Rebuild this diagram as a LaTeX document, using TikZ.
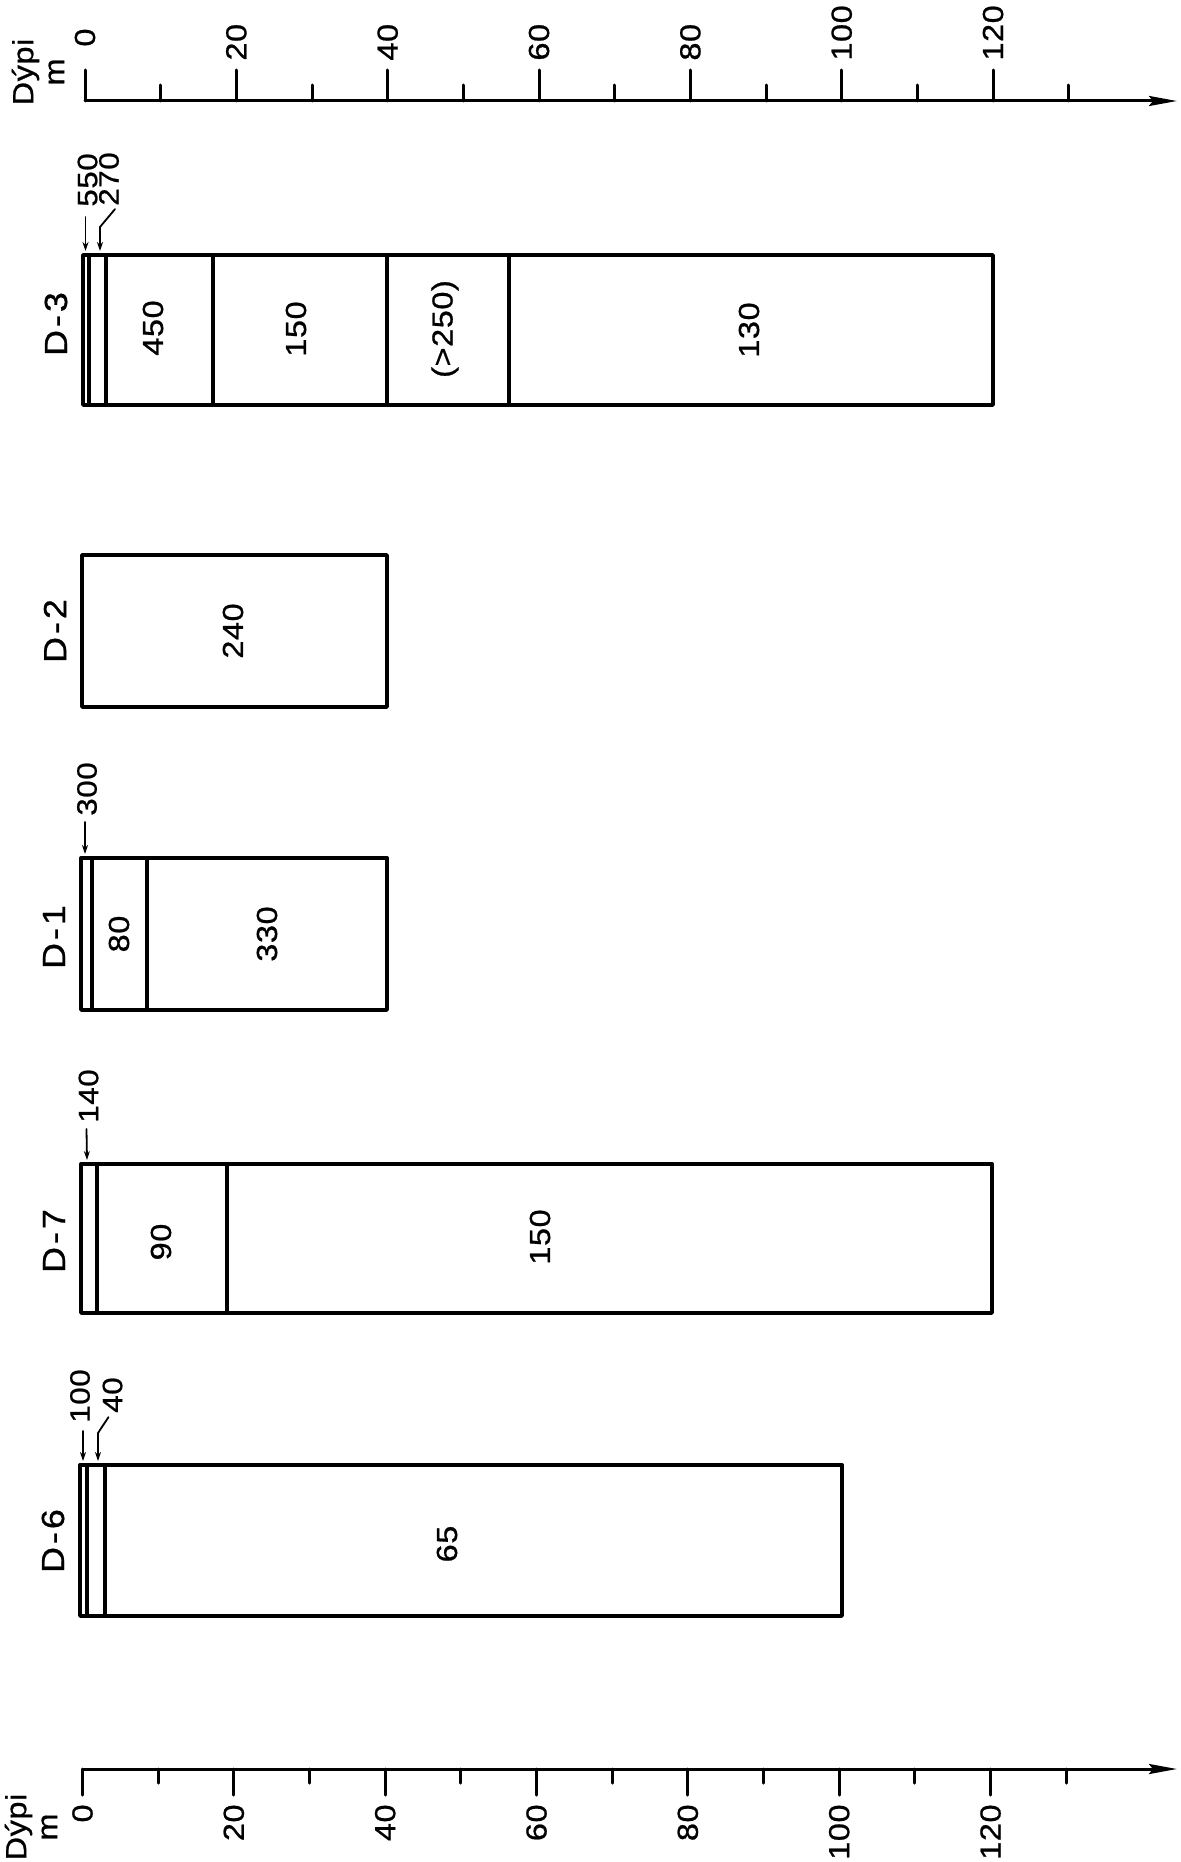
\documentclass[tikz,border=0pt]{standalone}
\usepackage{fontspec}
\setmainfont{Liberation Sans}[FakeStretch=1.12,LetterSpace=2,FakeBold=0.8]
\usetikzlibrary{arrows.meta}
\begin{document}
\begin{tikzpicture}[x=0.5pt,y=-0.5pt,
  line cap=round, line join=round,
  boxline/.style={line width=1.7pt},
  axisline/.style={line width=1.5pt},
  tickline/.style={line width=1.5pt},
  ptr/.style={line width=0.9pt,-{Stealth[length=4.5pt,width=3pt]}},
  axarrow/.style={-{Stealth[length=14pt,width=5pt,inset=2pt]}},
  numlbl/.style={rotate=90,inner sep=0pt,font=\fontsize{14.5}{16}\selectfont},
  smallnum/.style={rotate=90,inner sep=0pt,font=\fontsize{14}{15}\selectfont},
  welllbl/.style={rotate=90,inner sep=0pt,font=\fontsize{16}{18}\selectfont},
  unitlbl/.style={rotate=90,inner sep=0pt,align=center,font=\fontsize{14.5}{15.5}\selectfont},
]
\path[use as bounding box] (0,0) rectangle (1180,1862);

% ---------- top axis ----------
\draw[axisline,axarrow] (85,101) -- (1177,101);
\foreach \d in {0,20,...,120}
  \draw[tickline] ({85+7.567*\d},101) -- ({85+7.567*\d},70);
\foreach \d in {10,30,...,130}
  \draw[tickline] ({85+7.567*\d},101) -- ({85+7.567*\d},85);
\node[numlbl,anchor=west] (t0) at (85,47) {0};
\foreach \d in {20,40,...,120}
  \node[numlbl,anchor=west] (t\d) at ({85+7.567*\d},61) {\d};
\node[unitlbl] (tunit) at (38,72) {Dýpi\\m};

% ---------- bottom axis ----------
\draw[axisline,axarrow] (82.5,1769) -- (1177,1769);
\foreach \d in {0,20,...,120}
  \draw[tickline] ({82.5+7.567*\d},1769) -- ({82.5+7.567*\d},1795);
\foreach \d in {10,30,...,130}
  \draw[tickline] ({82.5+7.567*\d},1769) -- ({82.5+7.567*\d},1783);
\foreach \d in {0,20,...,120}
  \node[numlbl,anchor=east] (b\d) at ({82.5+7.567*\d},1804) {\d};
\node[unitlbl] (bunit) at (31,1827) {Dýpi\\m};

% ---------- D-3 ----------
\draw[boxline] (83,255) rectangle (993,405);
\foreach \x in {89,106,213,387,509} \draw[boxline] (\x,255) -- (\x,405);
\node[welllbl] (d3) at (56,324) {D\kern1.5pt-\kern1.5pt3};
\node[numlbl] (d3a) at (153,328) {450};
\node[numlbl] (d3b) at (296,329) {150};
\node[numlbl] (d3c) at (445,329) {(>250)};
\node[numlbl] (d3d) at (749,330) {130};
\node[smallnum] (l550) at (87.5,180) {550};
\node[smallnum] (l270) at (109,179) {270};
\coordinate (c550) at (85.5,251);
\coordinate (k270) at (100,227);
\coordinate (c270) at (100,251);
\draw[ptr] ([xshift=-1pt,yshift=-5pt]l550.west) -- (c550);
\draw[ptr] ([xshift=3pt,yshift=-1.5pt]l270.west) -- (k270) -- (c270);

% ---------- D-2 ----------
\draw[boxline] (82,555) rectangle (387,707);
\node[welllbl] (d2) at (55,631) {D\kern1.5pt-\kern1.5pt2};
\node[numlbl] (d2a) at (233,631) {240};

% ---------- D-1 ----------
\draw[boxline] (81,858) rectangle (387,1010);
\foreach \x in {92,147} \draw[boxline] (\x,858) -- (\x,1010);
\node[welllbl] (d1) at (54,937) {D\kern1.5pt-\kern1.5pt1};
\node[numlbl] (d1a) at (119,934) {80};
\node[numlbl] (d1b) at (267,934) {330};
\node[smallnum] (l300) at (87,789) {300};
\coordinate (c300) at (85,854);
\draw[ptr] ([xshift=-1pt,yshift=-3pt]l300.west) -- (c300);

% ---------- D-7 ----------
\draw[boxline] (81,1164) rectangle (992,1313);
\foreach \x in {97,227} \draw[boxline] (\x,1164) -- (\x,1313);
\node[welllbl] (d7) at (54,1241) {D\kern1.5pt-\kern1.5pt7};
\node[numlbl] (d7a) at (161,1242) {90};
\node[numlbl] (d7b) at (540,1237) {150};
\node[smallnum] (l140) at (88.5,1096) {140};
\coordinate (c140) at (87,1160);
\draw[ptr] ([xshift=-1pt,yshift=-3pt]l140.west) -- (c140);

% ---------- D-6 ----------
\draw[boxline] (80,1465) rectangle (842,1616);
\foreach \x in {87,105} \draw[boxline] (\x,1465) -- (\x,1616);
\node[welllbl] (d6) at (53,1541) {D\kern1.5pt-\kern1.5pt6};
\node[numlbl] (d6a) at (447,1544) {65};
\node[smallnum] (l100) at (80,1396) {100};
\node[smallnum] (l40) at (112.5,1395) {40};
\coordinate (c100) at (83,1461);
\coordinate (k40) at (98,1433);
\coordinate (c40) at (98,1461);
\draw[ptr] ([xshift=1.5pt,yshift=-4pt]l100.west) -- (c100);
\draw[ptr] ([xshift=-2pt,yshift=-2pt]l40.west) -- (k40) -- (c40);
\end{tikzpicture}
\end{document}
